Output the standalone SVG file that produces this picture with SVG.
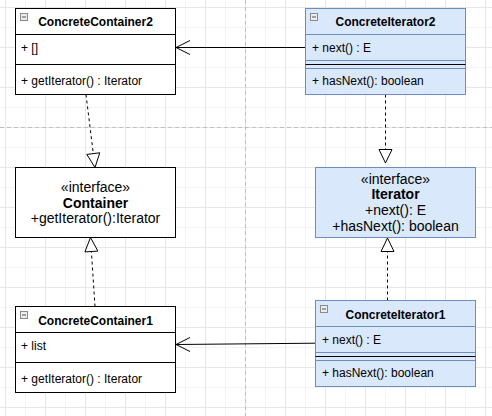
<svg xmlns="http://www.w3.org/2000/svg" width="492" height="416" viewBox="0 0 492 416">
<defs>
<pattern id="grid" patternUnits="userSpaceOnUse" x="5" y="7" width="40" height="40">
<rect x="0" y="20" width="40" height="1" fill="#f3f3f3"/>
<rect x="20" y="0" width="1" height="40" fill="#f3f3f3"/>
<rect x="0" y="0" width="40" height="1" fill="#e6e6e6"/>
<rect x="0" y="0" width="1" height="40" fill="#e6e6e6"/>
</pattern>
</defs>
<style>
text{font-family:"Liberation Sans",Arial,Helvetica,sans-serif;font-size:12px;fill:#000}
.b{font-weight:bold}
.c{text-anchor:middle}
.f14{font-size:14px}
.white{fill:#fff;stroke:#000;stroke-width:1}
.blue{fill:#dae8fc;stroke:#6c8ebf;stroke-width:1}
.bl{stroke:#6c8ebf;stroke-width:1}
.k{stroke:#000;stroke-width:1}
.icon{fill:#ececec;stroke:#8a8a8a;stroke-width:1}
.iconm{stroke:#555;stroke-width:1}
.edge{fill:none;stroke:#000;stroke-width:1}
.dash{fill:none;stroke:#000;stroke-width:1;stroke-dasharray:3 3}
.tri{fill:#fff;stroke:#000;stroke-width:1}
.page{stroke:#c0c0c0;stroke-width:1;stroke-dasharray:4 3}
</style>
<rect x="0" y="0" width="492" height="416" fill="#fff"/>
<rect x="0" y="0" width="492" height="416" fill="url(#grid)"/>
<line class="page" x1="245.5" y1="0" x2="245.5" y2="416"/>
<line class="page" x1="0" y1="127.5" x2="492" y2="127.5"/>

<g id="connectors">
<line class="edge" x1="305.5" y1="47.5" x2="176" y2="47.5"/>
<polyline class="edge" points="190,40.5 176,47.5 190,54.5"/>
<line class="edge" x1="315.5" y1="343.2" x2="176" y2="344.5"/>
<polyline class="edge" points="190,337.5 176,344.5 190,351.5"/>
<line class="dash" x1="86" y1="94.5" x2="93.3" y2="153.6"/>
<polygon class="tri" points="95,167.5 99.75,152.8 86.85,154.4"/>
<line class="dash" x1="95" y1="306.5" x2="91.4" y2="251.5"/>
<polygon class="tri" points="90.5,237.5 97.9,251.1 84.9,251.9"/>
<line class="dash" x1="385.5" y1="94.5" x2="385.5" y2="149.5"/>
<polygon class="tri" points="385.5,163 392,149.5 379,149.5"/>
<line class="dash" x1="387.5" y1="300.5" x2="387.5" y2="251.5"/>
<polygon class="tri" points="387.5,238 394,251.5 381,251.5"/>
</g>

<g id="ConcreteContainer2">
<rect class="white" x="15.5" y="8.5" width="160" height="86"/>
<line class="k" x1="15.5" y1="34.5" x2="175.5" y2="34.5"/>
<line class="k" x1="15.5" y1="64.5" x2="175.5" y2="64.5"/>
<rect class="icon" x="20.5" y="13.5" width="7" height="7"/>
<line class="iconm" x1="22" y1="17" x2="26" y2="17"/>
<text class="b c" x="95.5" y="26">ConcreteContainer2</text>
<text x="21" y="52.2">+ []</text>
<text x="21" y="85.3">+ getIterator() : Iterator</text>
</g>

<g id="ConcreteIterator2">
<rect class="blue" x="305.5" y="8.5" width="160" height="86"/>
<line class="bl" x1="305.5" y1="34.5" x2="465.5" y2="34.5"/>
<line class="bl" x1="305.5" y1="60.5" x2="465.5" y2="60.5"/>
<line class="k" x1="305.5" y1="64.5" x2="465.5" y2="64.5"/>
<line class="bl" x1="305.5" y1="68.5" x2="465.5" y2="68.5"/>
<rect class="icon" x="310.5" y="13.5" width="7" height="7"/>
<line class="iconm" x1="312" y1="17" x2="316" y2="17"/>
<text class="b c" x="385.5" y="26">ConcreteIterator2</text>
<text x="312" y="52.2">+ next() : E</text>
<text x="312" y="85.3">+ hasNext(): boolean</text>
</g>

<g id="Container">
<rect class="white" x="15.5" y="167.5" width="160" height="70"/>
<text class="c f14" x="95.5" y="191.8">«interface»</text>
<text class="c f14 b" x="95.5" y="207.6">Container</text>
<text class="c f14" x="95.5" y="223.4">+getIterator():Iterator</text>
</g>

<g id="Iterator">
<rect class="blue" x="315.5" y="167.5" width="160" height="70"/>
<text class="c f14" x="395.5" y="183.5">«interface»</text>
<text class="c f14 b" x="395.5" y="199.3">Iterator</text>
<text class="c f14" x="395.5" y="215.1">+next(): E</text>
<text class="c f14" x="395.5" y="230.9">+hasNext(): boolean</text>
</g>

<g id="ConcreteContainer1">
<rect class="white" x="15.5" y="306.5" width="160" height="86"/>
<line class="k" x1="15.5" y1="332.5" x2="175.5" y2="332.5"/>
<line class="k" x1="15.5" y1="362.5" x2="175.5" y2="362.5"/>
<rect class="icon" x="20.5" y="311.5" width="7" height="7"/>
<line class="iconm" x1="22" y1="315" x2="26" y2="315"/>
<text class="b c" x="95.5" y="324.5">ConcreteContainer1</text>
<text x="21" y="350">+ list</text>
<text x="21" y="383.2">+ getIterator() : Iterator</text>
</g>

<g id="ConcreteIterator1">
<rect class="blue" x="315.5" y="300.5" width="160" height="86"/>
<line class="bl" x1="315.5" y1="326.5" x2="475.5" y2="326.5"/>
<line class="bl" x1="315.5" y1="352.5" x2="475.5" y2="352.5"/>
<line class="k" x1="315.5" y1="356.5" x2="475.5" y2="356.5"/>
<line class="bl" x1="315.5" y1="360.5" x2="475.5" y2="360.5"/>
<rect class="icon" x="320.5" y="305.5" width="7" height="7"/>
<line class="iconm" x1="322" y1="309" x2="326" y2="309"/>
<text class="b c" x="395.5" y="318.5">ConcreteIterator1</text>
<text x="322" y="344.2">+ next() : E</text>
<text x="322" y="377.3">+ hasNext(): boolean</text>
</g>
</svg>
